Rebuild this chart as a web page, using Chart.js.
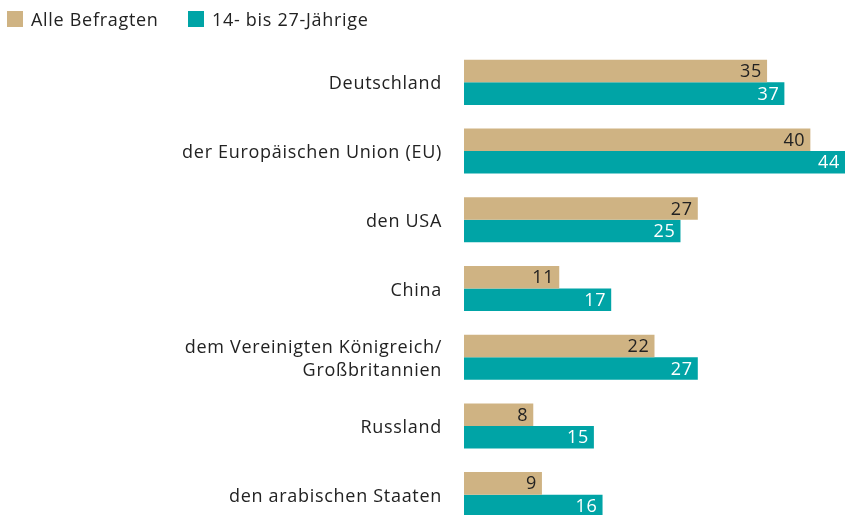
<!DOCTYPE html>
<html>
<head>
<meta charset="utf-8">
<script src="https://cdn.jsdelivr.net/npm/chart.js@4"></script>
<style>
  html, body { margin: 0; padding: 0; background: #fff; overflow: hidden; }
  body { width: 845px; height: 515px; position: relative; font-family: "Open Sans", sans-serif; }
  #legend { position: absolute; left: 0; top: 0; height: 40px; width: 845px; font-size: 18px; color: #222; letter-spacing: 0.7px; }
  .item { position: absolute; top: 8px; display: flex; align-items: center; height: 22px; }
  .box { width: 16px; height: 16px; margin-right: 8px; }
  #c { position: absolute; left: 0; top: 0; }
</style>
</head>
<body>
<canvas id="c" width="845" height="529"></canvas>
<div id="legend"></div>
<script>
const categories = [
  'Deutschland',
  'der Europäischen Union (EU)',
  'den USA',
  'China',
  ['dem Vereinigten Königreich/', 'Großbritannien'],
  'Russland',
  'den arabischen Staaten'
];
const seriesNames = ['Alle Befragten', '14- bis 27-Jährige'];
const alleBefragten = [35, 40, 27, 11, 22, 8, 9];
const jung = [37, 44, 25, 17, 27, 15, 16];
const colors = ['#CFB383', '#00A4A6'];
const labelColors = ['#222222', '#ffffff'];

// HTML legend
const legend = document.getElementById('legend');
const legendX = [7, 188];
seriesNames.forEach((n, i) => {
  const d = document.createElement('div');
  d.className = 'item';
  d.style.left = legendX[i] + 'px';
  d.innerHTML = '<div class="box" style="background:' + colors[i] + '"></div><span>' + n + '</span>';
  legend.appendChild(d);
});

const spacing = {
  id: 'spacing',
  beforeLayout(chart) { chart.ctx.letterSpacing = '0.7px'; },
  beforeDraw(chart) { chart.ctx.letterSpacing = '0.7px'; }
};

const valueLabels = {
  id: 'valueLabels',
  afterDatasetsDraw(chart) {
    const ctx = chart.ctx;
    ctx.save();
    ctx.letterSpacing = '0.7px';
    ctx.font = '18px "Open Sans", sans-serif';
    ctx.textAlign = 'right';
    ctx.textBaseline = 'middle';
    chart.data.datasets.forEach((ds, di) => {
      const meta = chart.getDatasetMeta(di);
      ctx.fillStyle = labelColors[di];
      meta.data.forEach((el, i) => {
        ctx.fillText(String(ds.data[i]), el.x - 5, el.y + 1);
      });
    });
    ctx.restore();
  }
};

new Chart(document.getElementById('c'), {
  type: 'bar',
  data: {
    labels: categories,
    datasets: [
      { label: seriesNames[0], data: alleBefragten, backgroundColor: colors[0] },
      { label: seriesNames[1], data: jung, backgroundColor: colors[1] }
    ]
  },
  options: {
    indexAxis: 'y',
    responsive: false,
    maintainAspectRatio: false,
    devicePixelRatio: 1,
    animation: false,
    layout: { padding: { top: 48, left: 0, right: 0, bottom: 0 } },
    datasets: { bar: { barPercentage: 1, categoryPercentage: 0.656 } },
    plugins: { legend: { display: false }, tooltip: { enabled: false } },
    scales: {
      x: { display: false, min: 0, max: 44 },
      y: {
        grid: { display: false, drawTicks: false },
        border: { display: false },
        ticks: {
          color: '#222222',
          padding: 22,
          labelOffset: 2,
          font: { family: '"Open Sans", sans-serif', size: 18, lineHeight: 1.28 }
        },
        afterFit(scale) {
          scale.width = 464;
          scale.paddingTop = 0;
          scale.paddingBottom = 0;
        }
      }
    }
  },
  plugins: [spacing, valueLabels]
});
</script>
</body>
</html>
